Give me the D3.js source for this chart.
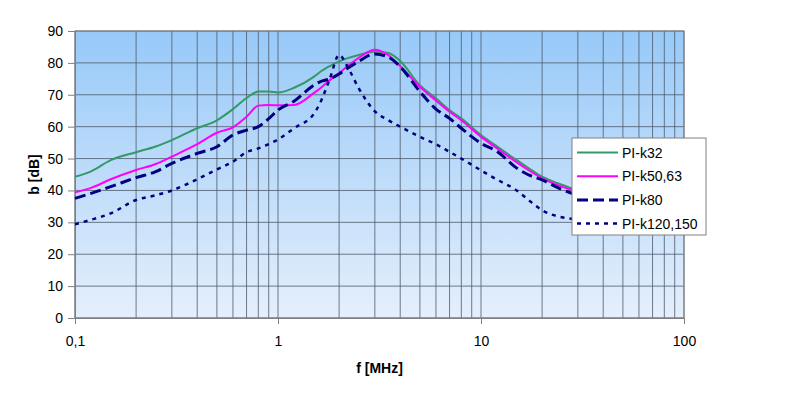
<!DOCTYPE html>
<html>
<head>
<meta charset="utf-8">
<script src="https://cdn.jsdelivr.net/npm/d3@7"></script>
<style>
    body { margin: 0; background: #fff; }
    text { font-family: "Liberation Sans", Arial, sans-serif; fill: #000; }
    .tick-label { font-size: 14px; }
    .axis-title { font-size: 14px; font-weight: bold; }
    .legend-label { font-size: 14px; }
</style>
</head>
<body>
<div id="chart"></div>
<script>
// frequency points, MHz
const freq = [0.1, 0.12, 0.15, 0.2, 0.25, 0.3, 0.4, 0.5, 0.6, 0.7, 0.8, 0.9, 1, 1.2, 1.5, 1.6, 1.8, 2,
    2.2, 2.5, 3, 3.5, 4, 5, 6, 7, 8, 10, 12, 15, 17, 20, 25, 30];

// attenuation, dB
const piK32 = [44.3, 46, 49.5, 52, 53.8, 55.8, 59.5, 62, 65.5, 69, 71, 71, 70.7, 72.2, 75.6, 77, 79, 80.5,
    81.5, 82.5, 83.5, 83.1, 80.6, 73, 68.9, 65.2, 62.6, 57.4, 53.8, 49.5, 47.2, 44.3, 41.8, 40];
const piK5063 = [39.4, 40.8, 43.5, 46.4, 48.3, 50.6, 54.5, 58.1, 59.8, 63.1, 66.6, 66.8, 66.7, 66.8, 70.5, 71.8, 74.6, 76.8,
    79, 81.6, 84.1, 82.4, 79, 72.5, 68.2, 64.7, 62, 56.8, 53.2, 48.8, 46.5, 43.8, 41.2, 39.5];
const piK80 = [37.5, 39.1, 41.2, 44, 45.9, 48.5, 51.6, 53.7, 57.4, 58.9, 60, 62.5, 65.2, 68, 73, 74, 75, 76.5,
    78.3, 80.5, 82.8, 81.8, 78.8, 71, 65.5, 62.6, 59.5, 54.8, 52.2, 47, 45, 43.3, 40.3, 38.5];
const piK120150 = [29.4, 30.8, 32.8, 37, 38.5, 40, 43.5, 46.6, 49, 52, 53.2, 54.5, 56, 59.5, 64, 67, 75, 82.5,
    78.8, 72, 64.8, 62, 60, 56.8, 54.5, 52.1, 50, 46.3, 43.4, 40, 37.2, 33.8, 31.6, 31];

const seriesNames = ['PI-k32', 'PI-k50,63', 'PI-k80', 'PI-k120,150'];
const seriesValues = [piK32, piK5063, piK80, piK120150];

const xTickValues = [0.1, 1, 10, 100];
const xTickLabels = ['0,1', '1', '10', '100'];
const yTickValues = [0, 10, 20, 30, 40, 50, 60, 70, 80, 90];

// line styles per series
const styles = [
    { color: '#339966', width: 2, dash: null },
    { color: '#ff00ff', width: 2, dash: null },
    { color: '#000080', width: 3, dash: '11,5' },
    { color: '#000080', width: 2.5, dash: '4,5' }
];

const width = 811, height = 400;
const margin = { top: 31, right: 127, bottom: 82, left: 75 };
const plotW = width - margin.left - margin.right;
const plotH = height - margin.top - margin.bottom;

const svg = d3.select('#chart')
    .append('svg')
    .attr('width', width)
    .attr('height', height);

const x = d3.scaleLog().domain([0.1, 100]).range([0, plotW]);
const y = d3.scaleLinear().domain([0, 90]).range([plotH, 0]);

// background gradient
const grad = svg.append('defs')
    .append('linearGradient')
    .attr('id', 'plotBg')
    .attr('x1', '0%').attr('x2', '0%')
    .attr('y1', '0%').attr('y2', '100%');
grad.append('stop').attr('offset', '0%').attr('stop-color', '#97c9f8');
grad.append('stop').attr('offset', '100%').attr('stop-color', '#e5effc');

const g = svg.append('g')
    .attr('transform', `translate(${margin.left},${margin.top})`);

g.append('rect')
    .attr('width', plotW)
    .attr('height', plotH)
    .attr('fill', 'url(#plotBg)');

// grid: every 1..9 of each decade, and every 10 dB
const xGrid = [];
for (let d = 0.1; d < 100; d *= 10) {
    for (let k = 1; k <= 9; k++) xGrid.push(+(d * k).toPrecision(3));
}
xGrid.push(100);

g.selectAll('.vgrid')
    .data(xGrid)
    .enter()
    .append('line')
    .attr('class', 'vgrid')
    .attr('x1', d => x(d)).attr('x2', d => x(d))
    .attr('y1', 0).attr('y2', plotH)
    .attr('stroke', '#4d5a6b')
    .attr('stroke-width', 0.8);

g.selectAll('.hgrid')
    .data(yTickValues)
    .enter()
    .append('line')
    .attr('class', 'hgrid')
    .attr('x1', 0).attr('x2', plotW)
    .attr('y1', d => y(d)).attr('y2', d => y(d))
    .attr('stroke', '#4d5a6b')
    .attr('stroke-width', 0.8);

// plot border
g.append('rect')
    .attr('width', plotW)
    .attr('height', plotH)
    .attr('fill', 'none')
    .attr('stroke', '#808080')
    .attr('stroke-width', 1);

// axes
const yAxis = g.append('g')
    .call(d3.axisLeft(y).tickValues(yTickValues).tickSize(7).tickPadding(5));
const xAxis = g.append('g')
    .attr('transform', `translate(0,${plotH})`)
    .call(d3.axisBottom(x).tickValues(xTickValues).tickSize(6).tickPadding(12)
        .tickFormat((d, i) => xTickLabels[i]));

[xAxis, yAxis].forEach(a => {
    a.select('.domain').attr('stroke', '#808080');
    a.selectAll('.tick line').attr('stroke', '#808080');
    a.selectAll('.tick text')
        .attr('class', 'tick-label')
        .attr('fill', '#000')
        .style('font-family', '"Liberation Sans", Arial, sans-serif')
        .style('font-size', '14px');
});

// series lines
const line = d3.line()
    .x(d => x(d[0]))
    .y(d => y(d[1]))
    .curve(d3.curveMonotoneX);

const lineG = g.append('g');
seriesValues.forEach((vals, i) => {
    lineG.append('path')
        .datum(freq.map((f, j) => [f, vals[j]]))
        .attr('d', line)
        .attr('fill', 'none')
        .attr('stroke', styles[i].color)
        .attr('stroke-width', styles[i].width)
        .attr('stroke-dasharray', styles[i].dash);
});

// axis titles
svg.append('text')
    .attr('class', 'axis-title')
    .attr('text-anchor', 'middle')
    .attr('transform', `translate(39,${margin.top + plotH / 2}) rotate(-90)`)
    .text('b [dB]');

svg.append('text')
    .attr('class', 'axis-title')
    .attr('text-anchor', 'middle')
    .attr('x', margin.left + plotW / 2)
    .attr('y', 373)
    .text('f [MHz]');

// legend
const legend = svg.append('g').attr('transform', 'translate(572,138)');
legend.append('rect')
    .attr('width', 134)
    .attr('height', 97)
    .attr('fill', '#fff')
    .attr('stroke', '#808080');

const items = legend.selectAll('.item')
    .data(seriesNames)
    .enter()
    .append('g')
    .attr('class', 'item')
    .attr('transform', (d, i) => `translate(0,${14.5 + i * 23.7})`);

items.append('line')
    .attr('x1', 5).attr('x2', 46)
    .attr('y1', 0).attr('y2', 0)
    .attr('stroke', (d, i) => styles[i].color)
    .attr('stroke-width', (d, i) => styles[i].width)
    .attr('stroke-dasharray', (d, i) => styles[i].dash);

items.append('text')
    .attr('class', 'legend-label')
    .attr('x', 50)
    .attr('y', 5)
    .text(d => d);
</script>
</body>
</html>
